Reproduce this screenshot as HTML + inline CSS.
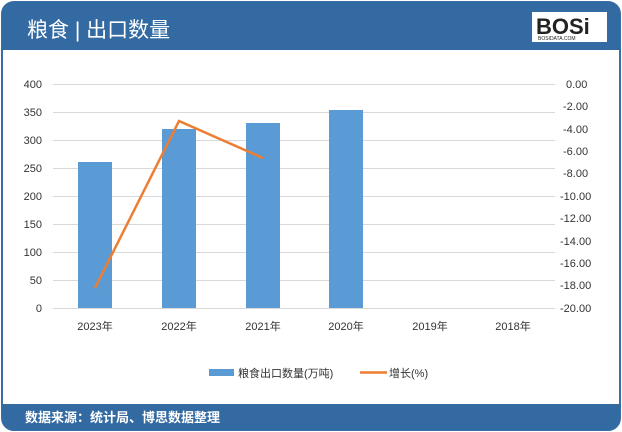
<!DOCTYPE html>
<html><head><meta charset="utf-8"><style>
body{margin:0;width:622px;height:432px;background:#fff;overflow:hidden;font-family:"Liberation Sans","Noto Sans CJK SC",sans-serif}
</style></head><body>
<svg width="622" height="432" xmlns="http://www.w3.org/2000/svg" style="position:absolute;left:0;top:0">
<rect x="2" y="2" width="618" height="428" rx="12" fill="#fff" stroke="#3a6ea5" stroke-width="2"/>
<path d="M2 50 V14 Q2 2 14 2 H608 Q620 2 620 14 V50 Z" fill="#336aa2"/>
<path d="M2 404 V418 Q2 430 14 430 H608 Q620 430 620 418 V404 Z" fill="#336aa2"/>
<text x="27" y="37" font-size="21" fill="#fff" font-family="Liberation Sans,Noto Sans CJK SC,sans-serif">粮食 | 出口数量</text>
<rect x="532" y="12" width="75" height="30" fill="#fff"/>
<text x="536" y="34" font-size="22" font-weight="bold" fill="#222" font-family="Liberation Sans,sans-serif">BOSi</text>
<text x="538" y="40" font-size="5" fill="#222">BOSIDATA.COM</text>
<text x="25" y="422" font-size="13" font-weight="bold" fill="#fff">数据来源：统计局、博思数据整理</text>
<g stroke="#d9d9d9" stroke-width="1">
<line x1="53" x2="555" y1="84.5" y2="84.5"/><line x1="53" x2="555" y1="112.5" y2="112.5"/>
<line x1="53" x2="555" y1="140.5" y2="140.5"/><line x1="53" x2="555" y1="168.5" y2="168.5"/>
<line x1="53" x2="555" y1="196.5" y2="196.5"/><line x1="53" x2="555" y1="224.5" y2="224.5"/>
<line x1="53" x2="555" y1="252.5" y2="252.5"/><line x1="53" x2="555" y1="280.5" y2="280.5"/>
<line x1="53" x2="555" y1="308.5" y2="308.5"/>
</g>
<g fill="#5b9bd5">
<rect x="78" y="162" width="34" height="146"/><rect x="162" y="129" width="34" height="179"/>
<rect x="246" y="123" width="34" height="185"/><rect x="329" y="110" width="34" height="198"/>
</g>
<polyline points="95,288 179,121 263,158" fill="none" stroke="#ed7d31" stroke-width="2.5"/>
<g font-size="11" fill="#333" text-anchor="end">
<text x="42" y="88">400</text><text x="42" y="116">350</text><text x="42" y="144">300</text>
<text x="42" y="172">250</text><text x="42" y="200">200</text><text x="42" y="228">150</text>
<text x="42" y="256">100</text><text x="42" y="284">50</text><text x="42" y="312">0</text>
</g>
<g font-size="11" fill="#333">
<text x="566" y="88">0.00</text><text x="563" y="110">-2.00</text><text x="563" y="133">-4.00</text>
<text x="563" y="155">-6.00</text><text x="563" y="177">-8.00</text><text x="560" y="200">-10.00</text>
<text x="560" y="222">-12.00</text><text x="560" y="245">-14.00</text><text x="560" y="267">-16.00</text>
<text x="560" y="289">-18.00</text><text x="560" y="312">-20.00</text>
</g>
<g font-size="11" fill="#333" text-anchor="middle">
<text x="95" y="330">2023年</text><text x="179" y="330">2022年</text><text x="263" y="330">2021年</text>
<text x="346" y="330">2020年</text><text x="430" y="330">2019年</text><text x="513" y="330">2018年</text>
</g>
<rect x="209" y="369" width="25" height="7" fill="#5b9bd5"/>
<text x="238" y="377" font-size="11" fill="#333">粮食出口数量(万吨)</text>
<line x1="360" x2="387" y1="372.5" y2="372.5" stroke="#ed7d31" stroke-width="2.5"/>
<text x="389" y="377" font-size="11" fill="#333">增长(%)</text>
</svg>
</body></html>
